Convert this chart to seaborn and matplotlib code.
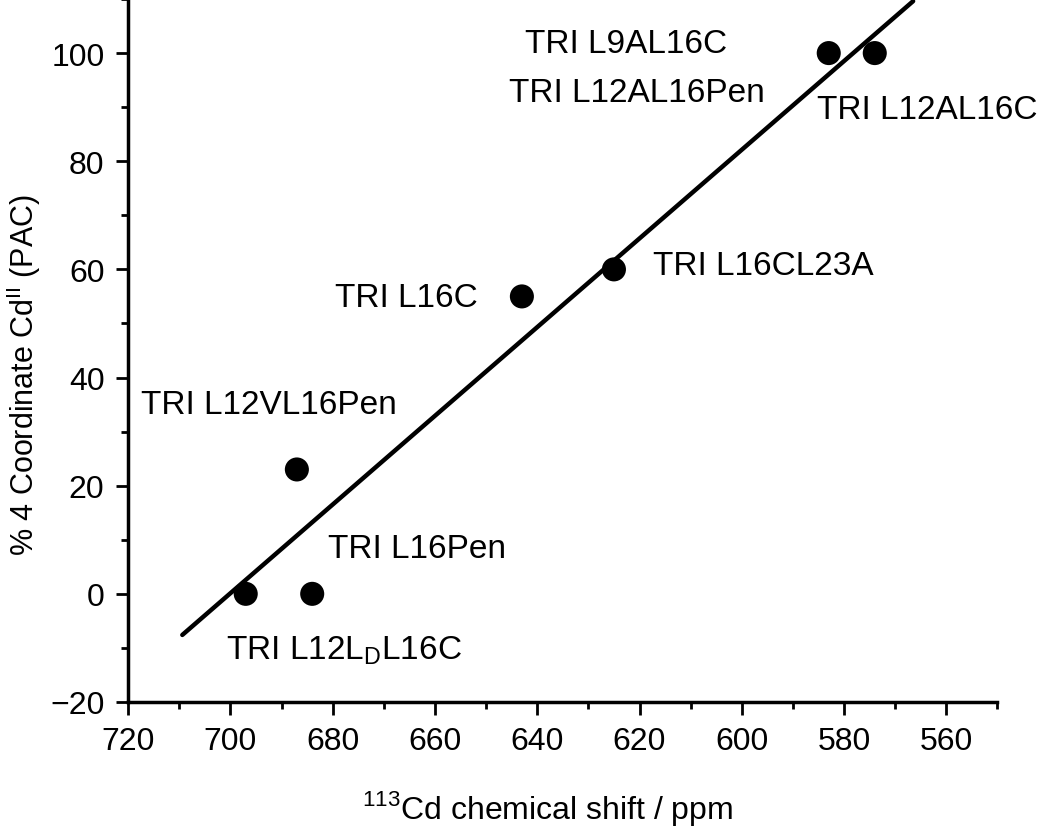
import matplotlib
matplotlib.use('Agg')
import matplotlib.pyplot as plt
import seaborn as sns
import pandas as pd
from matplotlib.ticker import MultipleLocator

# data
shift_ppm = [697, 684, 687, 643, 625, 583, 574]
pct_four_coord = [0, 0, 23, 55, 60, 100, 100]

# fitted line end points
fit_x = [709.4, 566.5]
fit_y = [-7.6, 109.6]

# annotation texts and where they sit
labels = ['TRI L9AL16C', 'TRI L12AL16Pen', 'TRI L12AL16C', 'TRI L16CL23A',
          'TRI L16C', 'TRI L12VL16Pen', 'TRI L16Pen',
          r'TRI L12L$_\mathregular{D}$L16C']
label_x = [622.7, 620.6, 563.7, 595.7, 665.5, 692.4, 663.5, 677.8]
label_y = [101.7, 92.8, 89.6, 60.8, 54.8, 35.0, 8.3, -10.4]

df = pd.DataFrame({'shift': shift_ppm, 'pct': pct_four_coord})
fit = pd.DataFrame({'shift': fit_x, 'pct': fit_y})

sns.set_style('ticks')
plt.rcParams['font.family'] = ['Liberation Sans', 'DejaVu Sans']
plt.rcParams['mathtext.fontset'] = 'custom'
plt.rcParams['mathtext.rm'] = 'Liberation Sans'
for k in ['text.color', 'axes.labelcolor', 'xtick.color', 'ytick.color', 'axes.edgecolor']:
    plt.rcParams[k] = 'black'

fig = plt.figure(figsize=(10.5, 8.29), dpi=100)
ax = fig.add_axes([0.122, 0.152, 0.828, 0.848])

sns.lineplot(data=fit, x='shift', y='pct', color='black', lw=3.2, ax=ax, sort=False)
sns.scatterplot(data=df, x='shift', y='pct', color='black', s=300, ax=ax,
                edgecolor='none', zorder=3)

for t, x, y in zip(labels, label_x, label_y):
    ax.text(x, y, t, fontsize=24, ha='center', va='center')

ax.set_xlim(720, 550)
ax.set_ylim(-20, 110)
ax.xaxis.set_major_locator(MultipleLocator(20))
ax.xaxis.set_minor_locator(MultipleLocator(10))
ax.yaxis.set_major_locator(MultipleLocator(20))
ax.yaxis.set_minor_locator(MultipleLocator(10))
ax.set_xticks(range(720, 559, -20))

sns.despine(ax=ax)
for s in ['left', 'bottom']:
    ax.spines[s].set_linewidth(2.5)
ax.tick_params(which='major', length=9, width=2, labelsize=23, pad=8)
ax.tick_params(which='minor', length=5, width=2)

ax.set_xlabel(r'$^{\mathregular{113}}$Cd chemical shift / ppm', fontsize=23)
ax.set_ylabel(r'% 4 Coordinate Cd$^{\mathregular{II}}$ (PAC)', fontsize=22)
ax.xaxis.set_label_coords(0.483, -0.122)
ax.yaxis.set_label_coords(-0.098, 0.467)

fig.savefig('out.png', dpi=100)
